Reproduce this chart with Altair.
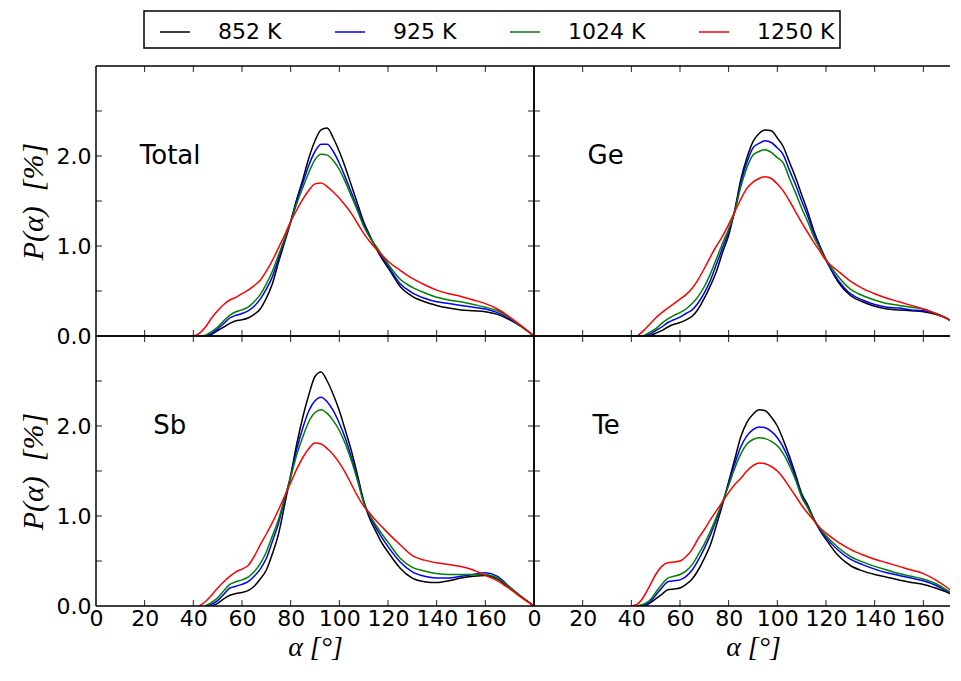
import altair as alt
import pandas as pd

ANGLES = [40, 42.5, 45, 47.5, 50, 52.5, 55, 57.5, 60, 62.5, 65, 67.5, 70, 72.5, 75, 77.5,
          80, 82.5, 85, 87.5, 90, 92.5, 95, 97.5, 100, 102.5, 105, 107.5, 110, 112.5, 115, 117.5,
          120, 125, 130, 135, 140, 145, 150, 155, 160, 165, 170, 175, 180]
TEMPS = ["852 K", "925 K", "1024 K", "1250 K"]
COLORS = ["#000000", "#0000ff", "#008000", "#ff0000"]
PANELS = ["Total", "Ge", "Sb", "Te"]
LABEL_X = [18, 22, 23.5, 24]
LABEL_Y = [2.0, 2.0, 2.0, 2.0]
X_LABELS = [0, 20, 40, 60, 80, 100, 120, 140, 160]
Y_LABELS = [0.0, 1.0, 2.0]
X_TICKS = [20, 40, 60, 80, 100, 120, 140, 160]
Y_TICKS = [0.5, 1.0, 1.5, 2.0, 2.5]

TOTAL_852 = [None, None, 0.0, 0.02, 0.06, 0.10, 0.14, 0.17, 0.18, 0.20, 0.24, 0.30, 0.42, 0.58, 0.82, 1.04,
             1.27, 1.52, 1.74, 1.98, 2.17, 2.29, 2.31, 2.20, 2.05, 1.87, 1.67, 1.47, 1.27, 1.12, 0.98, 0.86,
             0.76, 0.55, 0.44, 0.38, 0.34, 0.31, 0.29, 0.28, 0.27, 0.24, 0.18, 0.10, 0.0]
TOTAL_925 = [None, None, 0.0, 0.03, 0.08, 0.14, 0.20, 0.23, 0.25, 0.28, 0.33, 0.41, 0.52, 0.66, 0.86, 1.06,
             1.27, 1.50, 1.70, 1.90, 2.05, 2.13, 2.13, 2.05, 1.92, 1.76, 1.59, 1.42, 1.24, 1.10, 0.99, 0.88,
             0.78, 0.58, 0.48, 0.42, 0.38, 0.36, 0.34, 0.32, 0.30, 0.26, 0.19, 0.10, 0.0]
TOTAL_1024 = [None, 0.0, 0.01, 0.05, 0.10, 0.17, 0.23, 0.27, 0.29, 0.32, 0.38, 0.46, 0.58, 0.72, 0.90, 1.08,
              1.27, 1.47, 1.65, 1.82, 1.96, 2.02, 2.01, 1.95, 1.85, 1.71, 1.55, 1.39, 1.22, 1.10, 1.00, 0.90,
              0.80, 0.63, 0.54, 0.48, 0.43, 0.40, 0.38, 0.35, 0.32, 0.28, 0.20, 0.10, 0.0]
TOTAL_1250 = [0.0, 0.03, 0.10, 0.20, 0.28, 0.35, 0.40, 0.43, 0.47, 0.51, 0.56, 0.62, 0.72, 0.84, 0.98, 1.12,
              1.27, 1.40, 1.52, 1.62, 1.69, 1.70, 1.66, 1.60, 1.53, 1.45, 1.36, 1.25, 1.14, 1.05, 0.97, 0.90,
              0.83, 0.73, 0.64, 0.57, 0.51, 0.47, 0.44, 0.40, 0.36, 0.30, 0.21, 0.11, 0.0]

GE_852 = [None, None, None, 0.0, 0.03, 0.06, 0.10, 0.13, 0.15, 0.18, 0.22, 0.30, 0.42, 0.56, 0.72, 0.93,
          1.12, 1.40, 1.74, 1.98, 2.16, 2.25, 2.29, 2.28, 2.20, 2.10, 1.93, 1.76, 1.57, 1.38, 1.17, 1.00,
          0.85, 0.60, 0.45, 0.38, 0.33, 0.30, 0.29, 0.28, 0.27, 0.24, 0.19, 0.10, 0.0]
GE_925 = [None, None, 0.0, 0.02, 0.06, 0.10, 0.15, 0.18, 0.21, 0.25, 0.29, 0.37, 0.48, 0.62, 0.80, 0.98,
          1.16, 1.39, 1.70, 1.93, 2.09, 2.14, 2.17, 2.15, 2.09, 2.01, 1.84, 1.68, 1.50, 1.33, 1.14, 0.99,
          0.84, 0.62, 0.47, 0.40, 0.35, 0.32, 0.31, 0.29, 0.28, 0.25, 0.19, 0.10, 0.0]
GE_1024 = [None, None, 0.0, 0.04, 0.08, 0.14, 0.19, 0.23, 0.26, 0.30, 0.36, 0.44, 0.55, 0.69, 0.86, 1.03,
           1.19, 1.38, 1.66, 1.87, 2.01, 2.05, 2.07, 2.04, 1.98, 1.92, 1.75, 1.59, 1.42, 1.27, 1.10, 0.97,
           0.85, 0.66, 0.52, 0.45, 0.40, 0.36, 0.34, 0.32, 0.30, 0.25, 0.19, 0.10, 0.0]
GE_1250 = [None, 0.0, 0.06, 0.13, 0.20, 0.26, 0.31, 0.36, 0.41, 0.46, 0.53, 0.63, 0.75, 0.88, 1.00, 1.11,
           1.24, 1.38, 1.52, 1.64, 1.71, 1.75, 1.77, 1.75, 1.69, 1.61, 1.50, 1.38, 1.26, 1.15, 1.04, 0.94,
           0.84, 0.72, 0.61, 0.53, 0.47, 0.42, 0.38, 0.34, 0.30, 0.25, 0.19, 0.10, 0.0]

SB_852 = [None, None, None, 0.0, 0.03, 0.08, 0.12, 0.14, 0.15, 0.17, 0.22, 0.30, 0.40, 0.58, 0.80, 1.12,
          1.45, 1.80, 2.10, 2.35, 2.55, 2.60, 2.50, 2.35, 2.17, 1.95, 1.72, 1.45, 1.17, 0.97, 0.83, 0.70,
          0.60, 0.42, 0.31, 0.27, 0.26, 0.28, 0.31, 0.33, 0.34, 0.30, 0.20, 0.10, 0.0]
SB_925 = [None, None, 0.0, 0.02, 0.06, 0.13, 0.20, 0.22, 0.24, 0.27, 0.33, 0.41, 0.53, 0.72, 0.92, 1.18,
          1.44, 1.74, 1.98, 2.17, 2.28, 2.32, 2.27, 2.17, 2.03, 1.86, 1.65, 1.42, 1.16, 1.00, 0.87, 0.76,
          0.66, 0.49, 0.38, 0.33, 0.31, 0.31, 0.33, 0.35, 0.37, 0.33, 0.21, 0.10, 0.0]
SB_1024 = [None, None, 0.0, 0.04, 0.09, 0.17, 0.24, 0.27, 0.29, 0.32, 0.38, 0.47, 0.60, 0.78, 0.96, 1.20,
           1.43, 1.68, 1.88, 2.05, 2.15, 2.18, 2.14, 2.06, 1.95, 1.80, 1.61, 1.39, 1.15, 1.01, 0.90, 0.80,
           0.71, 0.53, 0.43, 0.39, 0.36, 0.35, 0.35, 0.35, 0.35, 0.31, 0.21, 0.10, 0.0]
SB_1250 = [None, 0.0, 0.05, 0.12, 0.20, 0.27, 0.33, 0.38, 0.41, 0.45, 0.55, 0.68, 0.80, 0.93, 1.07, 1.22,
           1.37, 1.52, 1.65, 1.75, 1.81, 1.80, 1.75, 1.68, 1.59, 1.48, 1.35, 1.22, 1.11, 1.03, 0.95, 0.88,
           0.81, 0.68, 0.56, 0.51, 0.48, 0.46, 0.44, 0.40, 0.34, 0.28, 0.19, 0.09, 0.0]

TE_852 = [None, None, 0.0, 0.03, 0.08, 0.13, 0.18, 0.19, 0.20, 0.24, 0.30, 0.40, 0.53, 0.68, 0.90, 1.13,
          1.38, 1.63, 1.88, 2.04, 2.13, 2.18, 2.17, 2.10, 2.00, 1.84, 1.66, 1.46, 1.25, 1.12, 0.97, 0.84,
          0.74, 0.56, 0.45, 0.39, 0.35, 0.32, 0.29, 0.26, 0.24, 0.20, 0.15, 0.07, 0.0]
TE_925 = [None, 0.0, 0.01, 0.04, 0.12, 0.20, 0.27, 0.28, 0.29, 0.33, 0.40, 0.51, 0.64, 0.79, 0.96, 1.15,
          1.36, 1.58, 1.77, 1.89, 1.96, 1.99, 1.98, 1.94, 1.87, 1.76, 1.61, 1.43, 1.23, 1.10, 0.96, 0.85,
          0.76, 0.62, 0.52, 0.46, 0.41, 0.37, 0.34, 0.31, 0.28, 0.23, 0.16, 0.07, 0.0]
TE_1024 = [None, 0.0, 0.02, 0.06, 0.15, 0.24, 0.31, 0.33, 0.35, 0.39, 0.46, 0.57, 0.69, 0.83, 0.99, 1.16,
           1.34, 1.53, 1.69, 1.80, 1.85, 1.87, 1.86, 1.83, 1.78, 1.69, 1.56, 1.40, 1.21, 1.09, 0.96, 0.86,
           0.78, 0.65, 0.55, 0.49, 0.44, 0.40, 0.36, 0.33, 0.30, 0.25, 0.17, 0.08, 0.0]
TE_1250 = [0.0, 0.02, 0.10, 0.22, 0.35, 0.44, 0.48, 0.49, 0.50, 0.55, 0.63, 0.75, 0.85, 0.96, 1.06, 1.16,
           1.26, 1.35, 1.42, 1.50, 1.56, 1.59, 1.58, 1.55, 1.50, 1.42, 1.32, 1.22, 1.12, 1.03, 0.95, 0.87,
           0.81, 0.71, 0.63, 0.57, 0.52, 0.48, 0.44, 0.40, 0.36, 0.29, 0.20, 0.09, 0.0]

SERIES = {
    "Total": [TOTAL_852, TOTAL_925, TOTAL_1024, TOTAL_1250],
    "Ge": [GE_852, GE_925, GE_1024, GE_1250],
    "Sb": [SB_852, SB_925, SB_1024, SB_1250],
    "Te": [TE_852, TE_925, TE_1024, TE_1250],
}

rows = []
for panel in PANELS:
    for temp, vals in zip(TEMPS, SERIES[panel]):
        assert len(vals) == len(ANGLES), (panel, temp, len(vals))
        for a, v in zip(ANGLES, vals):
            if v is not None:
                rows.append({"panel": panel, "T": temp, "angle": a, "p": v})
df = pd.DataFrame(rows)

W_L, W_R, H = 438, 416, 270
X_MAX_R = 180 * W_R / W_L
TICK = 6

legend = alt.Legend(
    title=None, orient="none", legendX=48, legendY=-55, direction="horizontal", columns=4,
    symbolType="stroke", symbolSize=900, symbolStrokeWidth=1.5, symbolOffset=10,
    labelFontSize=22, labelFont="DejaVu Sans", labelColor="black", labelOffset=27,
    columnPadding=42, padding=5, fillColor="white", strokeColor="black", cornerRadius=0,
)

one = pd.DataFrame({"d": [0]})


def make_panel(idx, width, xmax, show_x, show_y, right_border):
    name = PANELS[idx]
    xs = alt.Scale(domain=[0, xmax], nice=False, zero=False)
    ys = alt.Scale(domain=[0, 3], nice=False, zero=False)
    if show_x:
        xaxis = alt.Axis(values=X_LABELS, title="α [°]", grid=False, ticks=False, domain=False,
                         labelFontSize=22, labelFont="DejaVu Sans", labelColor="black", labelPadding=2,
                         labelFlush=False, labelOverlap=False,
                         titleFont="Liberation Serif", titleFontStyle="italic", titleFontWeight="normal",
                         titleFontSize=28, titleColor="black", titlePadding=4, titleX=W_L / 2)
    else:
        xaxis = None
    if show_y:
        yaxis = alt.Axis(values=Y_LABELS, format=".1f", title="P(α)\u00a0\u00a0[%]", grid=False, ticks=False,
                         domain=False, labelFontSize=22, labelFont="DejaVu Sans", labelColor="black",
                         labelPadding=5, labelFlush=False, labelOverlap=False,
                         titleFont="Liberation Serif", titleFontStyle="italic", titleFontWeight="normal",
                         titleFontSize=30, titleColor="black", titlePadding=8)
    else:
        yaxis = None

    X = alt.X("angle:Q", scale=xs, axis=xaxis)
    Y = alt.Y("p:Q", scale=ys, axis=yaxis)

    lines = alt.Chart(df[df.panel == name]).mark_line(strokeWidth=1.5, clip=True, interpolate="monotone").encode(
        x=X, y=Y,
        color=alt.Color("T:N", scale=alt.Scale(domain=TEMPS, range=COLORS), legend=legend),
    )
    xt = pd.DataFrame({"angle": X_TICKS})
    yt = pd.DataFrame({"p": Y_TICKS})
    tick_bottom = alt.Chart(xt).mark_rule(color="#222222", strokeWidth=1).encode(
        x=X, y=alt.value(H), y2=alt.value(H - TICK))
    tick_top = alt.Chart(xt).mark_rule(color="#222222", strokeWidth=1).encode(
        x=X, y=alt.value(0), y2=alt.value(TICK))
    tick_left = alt.Chart(yt).mark_rule(color="#222222", strokeWidth=1).encode(
        y=Y, x=alt.value(0), x2=alt.value(TICK))
    layers = [lines, tick_bottom, tick_top, tick_left]
    if right_border:
        layers.append(alt.Chart(yt).mark_rule(color="#222222", strokeWidth=1).encode(
            y=Y, x=alt.value(width - TICK), x2=alt.value(width)))
    border = alt.Chart(one).mark_rule(color="black", strokeWidth=1.5)
    layers.append(border.encode(x=alt.value(0), x2=alt.value(width), y=alt.value(0)))
    layers.append(border.encode(x=alt.value(0), x2=alt.value(width), y=alt.value(H)))
    layers.append(border.encode(x=alt.value(0), y=alt.value(0), y2=alt.value(H)))
    if right_border:
        layers.append(border.encode(x=alt.value(width), y=alt.value(0), y2=alt.value(H)))
    lab = pd.DataFrame({"angle": [LABEL_X[idx]], "p": [LABEL_Y[idx]], "label": [name]})
    layers.append(alt.Chart(lab).mark_text(align="left", baseline="middle", fontSize=26,
                                           font="DejaVu Sans", color="black").encode(x=X, y=Y, text="label:N"))
    return alt.layer(*layers).properties(width=width, height=H)


p_total = make_panel(0, W_L, 180, False, True, True)
p_ge = make_panel(1, W_R, X_MAX_R, False, False, False)
p_sb = make_panel(2, W_L, 180, True, True, True)
p_te = make_panel(3, W_R, X_MAX_R, True, False, False)

chart = alt.concat(p_total, p_ge, p_sb, p_te, columns=2, spacing=0, bounds="flush", align="each").resolve_scale(
    x="independent", y="independent", color="shared"
).properties(
    padding={"left": 10, "top": 2, "right": 0, "bottom": 0},
    background="white",
).configure_view(strokeWidth=0).configure_legend(strokeWidth=1.5)

chart.save("out.html", embed_options={"renderer": "svg", "actions": False})
